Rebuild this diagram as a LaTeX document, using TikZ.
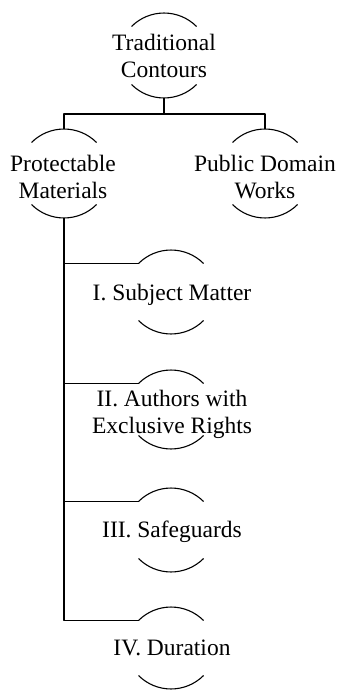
\documentclass[tikz,border=0pt]{standalone}
\usepackage{fontspec}
\setmainfont{Liberation Serif}
\usetikzlibrary{calc}
\begin{document}
\begin{tikzpicture}[x=1pt,y=1pt,
  labeltext/.style={font=\fontsize{23.5}{27}\selectfont, align=center, inner sep=0pt, anchor=base},
  rule/.style={line width=1.1pt, black, line join=round}]
\useasboundingbox (0,0) rectangle (339,-690);
% #1 name, #2 centre x, #3 y of the upper apex, #4 y of the lower apex
\newcommand\capsarcs[4]{%
  \coordinate (#1-top) at (#2,-#3);
  \coordinate (#1-bot) at (#2,-#4);
  \coordinate (#1-in) at (#2-32.5,-#3-13.5);
  \draw[rule] (#1-in) arc (135:45:46);
  \draw[rule] (#2-32.5,-#4+13.5) arc (225:315:46);
}

% labels (base anchor sits on the last line)
\node[labeltext] (T)   at (164,-78)  {Traditional\\Contours};
\node[labeltext] (P)   at (63,-198)  {Protectable\\Materials};
\node[labeltext] (D)   at (265,-198) {Public Domain\\Works};
\node[labeltext] (I)   at (172,-300) {I. Subject Matter};
\node[labeltext] (II)  at (172,-433) {II. Authors with\\Exclusive Rights};
\node[labeltext] (III) at (172,-537) {III. Safeguards};
\node[labeltext] (IV)  at (172,-655) {IV. Duration};

% arcs above and below each label
\capsarcs{T}{164}{13}{98}
\capsarcs{P}{64}{129}{218}
\capsarcs{D}{265}{129}{218}
\capsarcs{I}{171}{250}{334}
\capsarcs{II}{171}{370}{449}
\capsarcs{III}{171}{488}{572}
\capsarcs{IV}{171}{607}{689}

% connectors
\coordinate (J) at (164,-114);
\draw[rule] (T-bot) -- (J);
\draw[rule] (J) -| (P-top);
\draw[rule] (J) -| (D-top);
\draw[rule] (P-bot) |- (IV-in);
\draw[rule] (P-bot |- I-in) -- (I-in);
\draw[rule] (P-bot |- II-in) -- (II-in);
\draw[rule] (P-bot |- III-in) -- (III-in);
\end{tikzpicture}
\end{document}
